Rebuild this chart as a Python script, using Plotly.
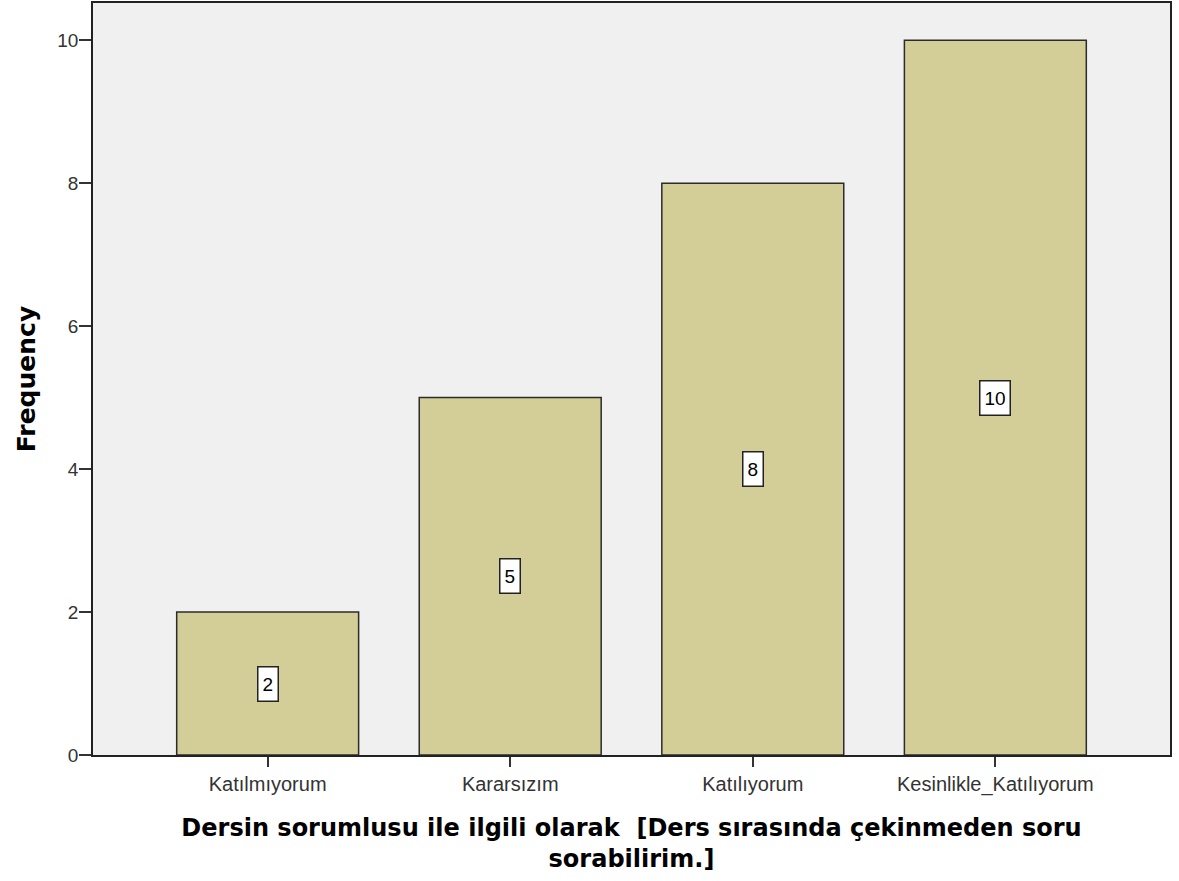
import plotly.graph_objects as go

categories = ["Katılmıyorum", "Kararsızım", "Katılıyorum", "Kesinlikle_Katılıyorum"]
frequency = [2, 5, 8, 10]
y_ticks = [0, 2, 4, 6, 8, 10]

fig = go.Figure()
fig.add_trace(go.Bar(
    x=list(range(len(categories))),
    y=frequency,
    width=0.75,
    marker=dict(color="#D3CE97", line=dict(color="#2b2b2b", width=1.5)),
    hoverinfo="x+y",
))

# value labels in white boxes at mid-height of each bar
for i, v in enumerate(frequency):
    fig.add_annotation(
        x=i, y=v / 2, text=str(v), showarrow=False,
        font=dict(family="Liberation Sans, Arial", size=19, color="black"),
        height=25,
        bgcolor="white", bordercolor="#222222", borderwidth=1.5, borderpad=4,
    )

fig.update_layout(
    width=1179, height=881,
    margin=dict(l=93, r=9, t=3, b=126),
    paper_bgcolor="white",
    plot_bgcolor="#F0F0F0",
    showlegend=False,
    font=dict(family="Liberation Sans, Arial", color="#222222"),
    xaxis=dict(
        range=[-0.72, 3.72],
        automargin=False,
        tickmode="array",
        tickvals=list(range(len(categories))),
        ticktext=categories,
        ticks="outside", ticklen=10, tickwidth=1.5, tickcolor="#333333",
        tickfont=dict(size=20, color="#333333"),
        showgrid=False, zeroline=False,
        showline=True, linecolor="#222222", linewidth=1.5, mirror=True,
        title=dict(
            text="Dersin sorumlusu ile ilgili olarak &nbsp;[Ders sırasında çekinmeden soru<br>sorabilirim.]",
            font=dict(family="DejaVu Sans, Arial", size=24, color="black", weight="bold"),
            standoff=24,
        ),
    ),
    yaxis=dict(
        range=[0, 10.52],
        automargin=False,
        tickmode="array",
        tickvals=y_ticks,
        ticks="outside", ticklen=12, tickwidth=2, tickcolor="#333333",
        tickfont=dict(size=19, color="#333333"),
        ticklabelstandoff=-3,
        showgrid=False, zeroline=False,
        showline=True, linecolor="#222222", linewidth=1.5, mirror=True,
        title=dict(
            text="Frequency",
            font=dict(family="DejaVu Sans, Arial", size=25, color="black", weight="bold"),
            standoff=15,
        ),
    ),
)

fig.write_html("out.html", config={"displayModeBar": False},
               post_script="document.body.style.margin='0';")
